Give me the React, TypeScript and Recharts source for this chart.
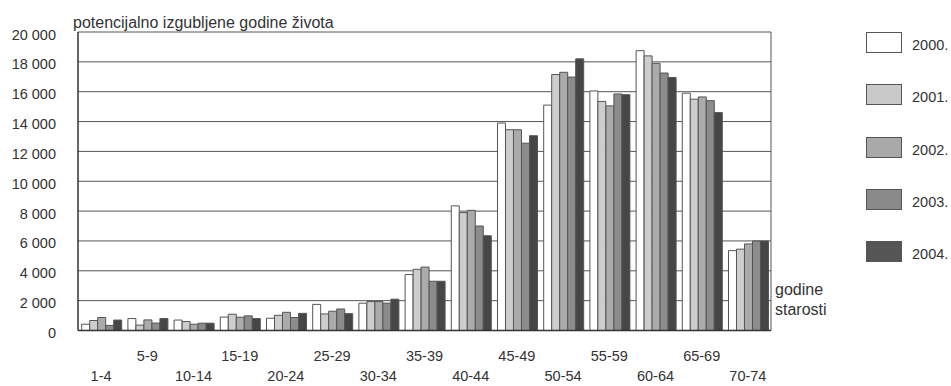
import React from "react";
import { BarChart, Bar, XAxis, YAxis, CartesianGrid, Legend } from "recharts";

const categories = ["1-4", "5-9", "10-14", "15-19", "20-24", "25-29", "30-34", "35-39", "40-44", "45-49", "50-54", "55-59", "60-64", "65-69", "70-74"];
const y2000 = [420, 800, 700, 900, 820, 1750, 1830, 3750, 8350, 13900, 15100, 16050, 18750, 15900, 5350];
const y2001 = [670, 360, 600, 1090, 1020, 1110, 1940, 4100, 7900, 13450, 17150, 15350, 18400, 15500, 5450];
const y2002 = [870, 710, 420, 890, 1220, 1290, 1940, 4250, 8050, 13450, 17300, 15050, 17900, 15650, 5800];
const y2003 = [340, 500, 490, 980, 870, 1440, 1830, 3300, 7000, 12550, 16980, 15850, 17250, 15400, 6000];
const y2004 = [700, 800, 490, 800, 1150, 1130, 2100, 3300, 6350, 13050, 18200, 15800, 16950, 14600, 6000];
const yTicks = [0, 2000, 4000, 6000, 8000, 10000, 12000, 14000, 16000, 18000, 20000];

const seriesNames = ["2000.", "2001.", "2002.", "2003.", "2004."];
const seriesValues = [y2000, y2001, y2002, y2003, y2004];
const seriesColors = ["#ffffff", "#cdcdcd", "#ababab", "#8c8c8c", "#464646"];
const legendColors = ["#ffffff", "#c9c9c9", "#a9a9a9", "#8a8a8a", "#555555"];

const data = categories.map((c, i) => {
  const row: Record<string, any> = { cat: c };
  seriesNames.forEach((s, k) => {
    row[s] = seriesValues[k][i];
  });
  return row;
});

const FONT = "'Liberation Sans', Arial, Helvetica, sans-serif";
const TEXT = "#333333";
const NUM_SIZE = 14.5;

const fmt = (v: number) => String(v).replace(/\B(?=(\d{3})+(?!\d))/g, " ");

const YTick = (props: any) => {
  const { x, y, payload } = props;
  return (
    <text x={x} y={y + 7.5} textAnchor="end" fontFamily={FONT} fontSize={NUM_SIZE} fill={TEXT}>
      {fmt(payload.value)}
    </text>
  );
};

const XTick = (props: any) => {
  const { x, y, payload, index } = props;
  const idx = payload && payload.index !== undefined ? payload.index : index;
  const dy = idx % 2 === 1 ? 30.5 : 50.5;
  return (
    <text x={x} y={y + dy} textAnchor="middle" fontFamily={FONT} fontSize={NUM_SIZE} fill={TEXT}>
      {payload.value}
    </text>
  );
};

const LegendContent = () => (
  <div style={{ fontFamily: FONT, fontSize: NUM_SIZE, color: TEXT }}>
    {seriesNames.map((s, k) => (
      <div key={s} style={{ position: "relative", height: 52.3 }}>
        <div
          style={{
            position: "absolute",
            left: 0,
            top: 0,
            width: 36,
            height: 21,
            boxSizing: "border-box",
            border: "1px solid #555",
            background: legendColors[k],
          }}
        />
        <div style={{ position: "absolute", left: 46, top: 5, lineHeight: "17px", whiteSpace: "nowrap" }}>{s}</div>
      </div>
    ))}
  </div>
);

export default function App() {
  return (
    <div style={{ position: "absolute", left: 0, top: 0, width: 951, height: 386, background: "#fff" }}>
      <BarChart
        width={951}
        height={386}
        data={data}
        margin={{ top: 32, right: 180, bottom: 0, left: 0 }}
        barCategoryGap="8%"
        barGap={0}
      >
        <CartesianGrid
          stroke="#555"
          strokeWidth={1}
          vertical={true}
          verticalCoordinatesGenerator={(p: any) => [p.offset.left + p.offset.width]}
        />
        <XAxis
          dataKey="cat"
          height={55.5}
          interval={0}
          tickLine={false}
          tickSize={0}
          tickMargin={0}
          axisLine={{ stroke: "#333", strokeWidth: 1.5 }}
          tick={<XTick />}
        />
        <YAxis
          width={78}
          domain={[0, 20000]}
          ticks={yTicks}
          interval={0}
          tickLine={false}
          tickSize={0}
          tickMargin={22}
          axisLine={{ stroke: "#333", strokeWidth: 1.5 }}
          tick={<YTick />}
        />
        <Legend
          layout="vertical"
          align="center"
          verticalAlign="middle"
          wrapperStyle={{ left: 866, top: 32, width: 85 }}
          content={<LegendContent />}
        />
        {seriesNames.map((s, k) => (
          <Bar key={s} dataKey={s} fill={seriesColors[k]} stroke="#555" strokeWidth={1} isAnimationActive={false} />
        ))}
      </BarChart>
      <svg width={951} height={386} style={{ position: "absolute", left: 0, top: 0, pointerEvents: "none" }}>
        <text x={73} y={28} fontFamily={FONT} fontSize={16} fill={TEXT}>
          potencijalno izgubljene godine života
        </text>
        <text x={775} y={295} fontFamily={FONT} fontSize={16} fill={TEXT}>
          godine
        </text>
        <text x={775} y={315} fontFamily={FONT} fontSize={16} fill={TEXT}>
          starosti
        </text>
      </svg>
    </div>
  );
}
